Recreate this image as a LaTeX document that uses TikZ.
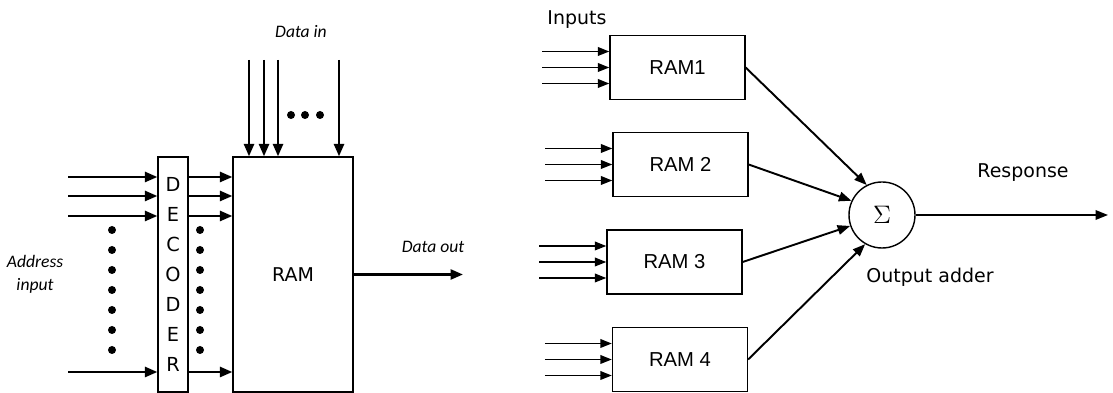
\documentclass[tikz,border=0pt]{standalone}
\usepackage{fontspec}
\usepackage{tikz}
\usetikzlibrary{arrows.meta}
\newfontfamily\tahomafont{DejaVu Sans}
\newfontfamily\arialfont{Liberation Sans}
\newfontfamily\narrowfont{Carlito}

\begin{document}
\begin{tikzpicture}[
    bus/.style={line width=1.5pt, -{Triangle[length=2.5mm,width=2mm]}},
    wire/.style={line width=1.1pt, -{Triangle[length=2.3mm,width=1.7mm]}},
    sumin/.style={line width=1.1pt, -{Triangle[length=2.5mm,width=1.9mm]}},
    blk/.style={draw, line width=0.7pt, inner sep=0pt},
    tag/.style={font=\narrowfont\itshape\fontsize{10}{13}\selectfont},
    txt/.style={font=\tahomafont\fontsize{10.8}{13}\selectfont}
  ]
  \useasboundingbox (0,0) rectangle (22.26,7.86);
  % Left part: address decoder feeding one RAM
  \node[blk, minimum width=0.6cm, minimum height=4.7cm, align=center,
        font=\tahomafont\fontsize{11}{17}\selectfont] (dec) at (3.46,2.37)
        {D\\E\\C\\O\\D\\E\\R};
  \node[blk, txt, minimum width=2.4cm, minimum height=4.7cm] (ram) at (5.86,2.37) {RAM};
  % address lines in and decoded lines out
  \foreach \y [count=\i] in {4.32,3.94,3.54,0.42} {
    \coordinate (ain\i) at (1.36,\y);
    \draw[bus] (ain\i) -- (ain\i -| dec.west);
    \draw[bus] (ain\i -| dec.east) -- (ain\i -| ram.west);
  }
  \foreach \k in {0,...,6} {
    \fill (2.24,{3.26-0.4*\k}) circle (0.08);
    \fill (4.00,{3.26-0.4*\k}) circle (0.08);
  }
  % data lines from above
  \foreach \x [count=\i] in {4.98,5.28,5.56,6.78} {
    \coordinate (din\i) at (\x,6.66);
    \draw[bus] (din\i) -- (din\i |- ram.north);
  }
  \foreach \x in {5.82,6.10,6.40} \fill (\x,5.56) circle (0.08);
  \coordinate (dout) at (9.26,2.37);
  \draw[bus] (ram.east) -- (dout);
  \node[tag] (datain) at (6.02,7.22) {Data in};
  \node[tag] (dataout) at (8.66,2.92) {Data out};
  \node[tag, align=center] (addr) at (0.70,2.38) {Address\\input};

  % Right part: four RAMs summed
  \node[txt] (inputs) at (11.54,7.46) {Inputs};
  \foreach \n/\x/\y/\t in {1/13.55/6.51/RAM1, 2/13.61/4.57/RAM 2,
                           3/13.49/2.62/RAM 3, 4/13.60/0.67/RAM 4} {
    \node[blk, minimum width=2.7cm, minimum height=1.28cm,
          font=\arialfont\fontsize{11.5}{13}\selectfont] (r\n) at (\x,\y) {\t};
    \foreach \d in {-0.32,0,0.32}
      \draw[wire] ([xshift=-1.34cm,yshift=\d cm]r\n.west) -- ([yshift=\d cm]r\n.west);
  }
  \node[draw, circle, line width=0.8pt, minimum size=1.32cm, inner sep=0pt,
        font=\fontsize{15}{18}\selectfont] (sum) at (17.64,3.56) {$\Sigma$};
  \draw[sumin] (r1.east) -- (sum.117);
  \draw[sumin] (r2.east) -- (sum.155);
  \draw[sumin] (r3.east) -- (sum.199);
  \draw[sumin] (r4.east) -- (sum.240);
  \coordinate (resp) at (22.16,3.56);
  \draw[sumin] (sum.east) -- (resp);
  \node[txt] (response) at (20.46,4.40) {Response};
  \node[txt] (adder) at (18.60,2.32) {Output adder};
\end{tikzpicture}
\end{document}
